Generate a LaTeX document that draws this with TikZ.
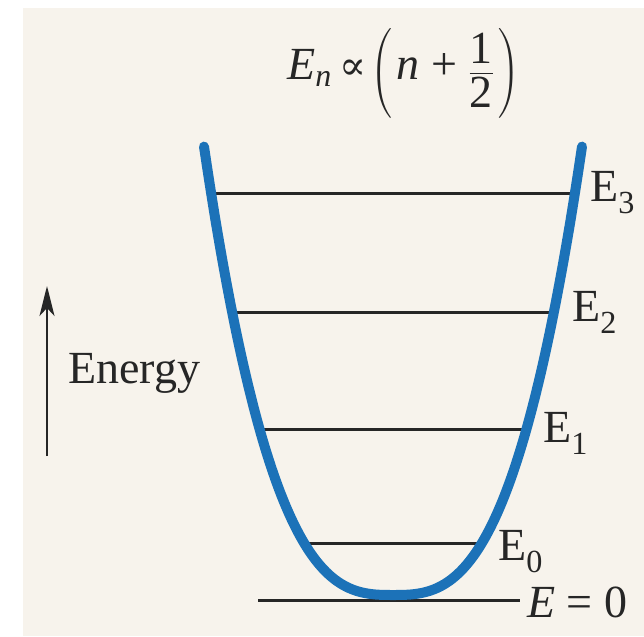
\documentclass[tikz,border=0pt]{standalone}
\usepackage{amsmath}
\usepackage{fontspec}
\setmainfont{Liberation Serif}
\newfontfamily\dejavu{DejaVu Serif}
\usetikzlibrary{arrows.meta}
\definecolor{paper}{RGB}{247,243,236}
\definecolor{wellblue}{RGB}{28,114,184}
\tikzset{
  level/.style={line width=3pt, black!85},
  well/.style={line width=10pt, wellblue, line cap=round},
  lbl/.style={inner sep=0pt, anchor=base west, font=\fontsize{46}{52}\selectfont, text=black!85},
}
\begin{document}
\begin{tikzpicture}[x=1pt,y=-1pt]
\useasboundingbox (0,0) rectangle (644,636);
\fill[white] (0,0) rectangle (644,636);
\fill[paper] (23,8) rectangle (644,636);
% level line end points
\coordinate (z0) at (258,600); \coordinate (z1) at (520,600);
\coordinate (a0) at (305,543); \coordinate (a1) at (481,543);
\coordinate (b0) at (260,429); \coordinate (b1) at (526,429);
\coordinate (c0) at (232,312); \coordinate (c1) at (554,312);
\coordinate (d0) at (212,194); \coordinate (d1) at (574,194);
\draw[level] (z0) -- (z1);
\draw[level] (a0) -- (a1);
\draw[level] (b0) -- (b1);
\draw[level] (c0) -- (c1);
\draw[level] (d0) -- (d1);
% potential well
\draw[well] plot[domain=-189:189, samples=100, smooth]
  ({393+\x},{595-(abs(\x)/22.3)^2.857});
% labels
\node[lbl] (l3) at (590,201) {E\textsubscript{3}};
\node[lbl] (l2) at (572,321) {E\textsubscript{2}};
\node[lbl] (l1) at (543,442) {E\textsubscript{1}};
\node[lbl] (l0) at (498,560) {E\textsubscript{0}};
\node[lbl] (lz) at (527,617) {\itshape E\upshape{} = 0};
\node[lbl] (en) at (68,383) {Energy};
% energy arrow
\coordinate (ar0) at (47,456);
\coordinate (ar1) at (47,286);
\draw[line width=2pt, black!85, -{Stealth[length=30pt,width=15pt,inset=8pt]}] (ar0) -- (ar1);
% formula
\node[lbl] (fm) at (287,80)
 {$\displaystyle\mbox{\itshape E}_{\mbox{\fontsize{32}{32}\selectfont\itshape n}}\mbox{\,{\dejavu\fontsize{40}{42}\selectfont ∝}}\left(\rule[-28pt]{0pt}{74pt}\,\mbox{\itshape n}\mbox{ + }\dfrac{\mbox{1}}{\mbox{2}}\,\right)$};
\end{tikzpicture}
\end{document}
